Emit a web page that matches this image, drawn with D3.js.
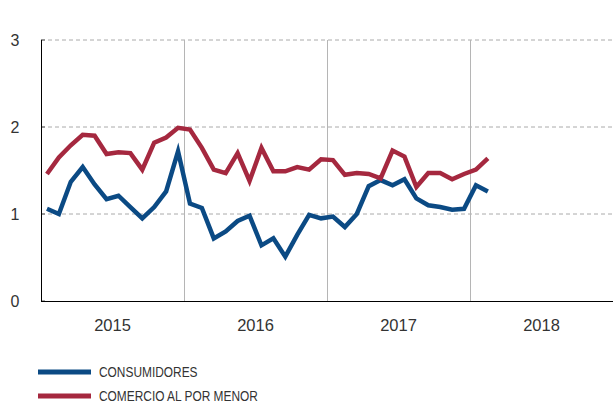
<!DOCTYPE html>
<html>
<head>
<meta charset="utf-8">
<script src="https://cdn.jsdelivr.net/npm/d3@7"></script>
<style>
body { margin: 0; background: #fff; }
text { font-family: "Liberation Sans", Arial, sans-serif; fill: #333; }
</style>
</head>
<body>
<div id="chart"></div>
<script>
// monthly values, Jan 2015 - Feb 2018
var years = ["2015", "2016", "2017", "2018"];
var yTicks = [0, 1, 2, 3];
var consumidores = [1.06, 1.00, 1.37, 1.54, 1.34, 1.17, 1.21, 1.08, 0.95, 1.08, 1.26, 1.72,
    1.12, 1.07, 0.72, 0.80, 0.92, 0.98, 0.64, 0.72, 0.51, 0.76, 0.99, 0.95,
    0.97, 0.85, 1.00, 1.32, 1.39, 1.33, 1.40, 1.18, 1.10, 1.08, 1.05, 1.06,
    1.33, 1.26];
var comercio = [1.46, 1.65, 1.79, 1.91, 1.90, 1.69, 1.71, 1.70, 1.51, 1.82, 1.88, 1.99,
    1.97, 1.76, 1.51, 1.47, 1.70, 1.38, 1.76, 1.49, 1.49, 1.54, 1.51, 1.63,
    1.62, 1.45, 1.47, 1.46, 1.41, 1.73, 1.66, 1.31, 1.47, 1.47, 1.40, 1.46,
    1.51, 1.64];
var seriesNames = ["CONSUMIDORES", "COMERCIO AL POR MENOR"];
var colors = ["#0b4a84", "#a5283f"];

var width = 613, height = 403;
var margin = {left: 41, right: 0, top: 40, bottom: 102};

var svg = d3.select("#chart").append("svg")
    .attr("width", width)
    .attr("height", height);

var x = d3.scaleLinear()
    .domain([0, years.length * 12])
    .range([margin.left, width - margin.right]);

var y = d3.scaleLinear()
    .domain([0, 3])
    .range([height - margin.bottom, margin.top]);

// horizontal dashed grid
svg.selectAll(".grid")
    .data(yTicks.filter(function (d) { return d > 0; }))
    .enter()
    .append("line")
    .attr("x1", x(0))
    .attr("x2", x(years.length * 12))
    .attr("y1", function (d) { return y(d); })
    .attr("y2", function (d) { return y(d); })
    .attr("stroke", "#aaa")
    .attr("stroke-dasharray", "4,3");

// small dark ticks on y axis
svg.selectAll(".ytick")
    .data(yTicks)
    .enter()
    .append("line")
    .attr("x1", x(0))
    .attr("x2", x(0) + 4)
    .attr("y1", function (d) { return y(d); })
    .attr("y2", function (d) { return y(d); })
    .attr("stroke", "#555");

// year separators
svg.selectAll(".sep")
    .data(years.slice(1))
    .enter()
    .append("line")
    .attr("x1", function (d, i) { return Math.round(x((i + 1) * 12)) + 0.5; })
    .attr("x2", function (d, i) { return Math.round(x((i + 1) * 12)) + 0.5; })
    .attr("y1", y(3))
    .attr("y2", y(0))
    .attr("stroke", "#b5b5b5");

// axes lines
svg.append("line")
    .attr("x1", x(0) + 0.5).attr("x2", x(0) + 0.5)
    .attr("y1", y(3)).attr("y2", y(0))
    .attr("stroke", "#000");
svg.append("line")
    .attr("x1", x(0)).attr("x2", x(years.length * 12))
    .attr("y1", y(0) + 0.5).attr("y2", y(0) + 0.5)
    .attr("stroke", "#000");

// y labels
svg.selectAll(".ylab")
    .data(yTicks)
    .enter()
    .append("text")
    .attr("x", 15)
    .attr("y", function (d) { return y(d); })
    .attr("dy", "0.35em")
    .attr("text-anchor", "middle")
    .attr("font-size", 16)
    .text(function (d) { return d; });

// year labels
svg.selectAll(".xlab")
    .data(years)
    .enter()
    .append("text")
    .attr("x", function (d, i) { return x(i * 12 + 6); })
    .attr("y", y(0) + 30)
    .attr("text-anchor", "middle")
    .attr("font-size", 16.5)
    .text(function (d) { return d; });

var line = d3.line()
    .x(function (d, i) { return x(i + 0.5); })
    .y(function (d) { return y(d); });

[consumidores, comercio].forEach(function (s, k) {
    svg.append("path")
        .datum(s)
        .attr("d", line)
        .attr("fill", "none")
        .attr("stroke", colors[k])
        .attr("stroke-width", 4.5)
        .attr("stroke-linejoin", "miter");
});

// legend
var legend = svg.selectAll(".legend")
    .data(seriesNames)
    .enter()
    .append("g")
    .attr("transform", function (d, i) { return "translate(38," + (372 + i * 24) + ")"; });

legend.append("line")
    .attr("x1", 0).attr("x2", 53)
    .attr("stroke", function (d, i) { return colors[i]; })
    .attr("stroke-width", 5);

// condensed look: squeeze the text horizontally
legend.append("text")
    .attr("x", 61)
    .attr("dy", "0.36em")
    .attr("font-size", 14)
    .text(function (d) { return d; })
    .each(function () {
        var w = this.getComputedTextLength();
        d3.select(this)
            .attr("textLength", w * 0.85)
            .attr("lengthAdjust", "spacingAndGlyphs");
    });
</script>
</body>
</html>
